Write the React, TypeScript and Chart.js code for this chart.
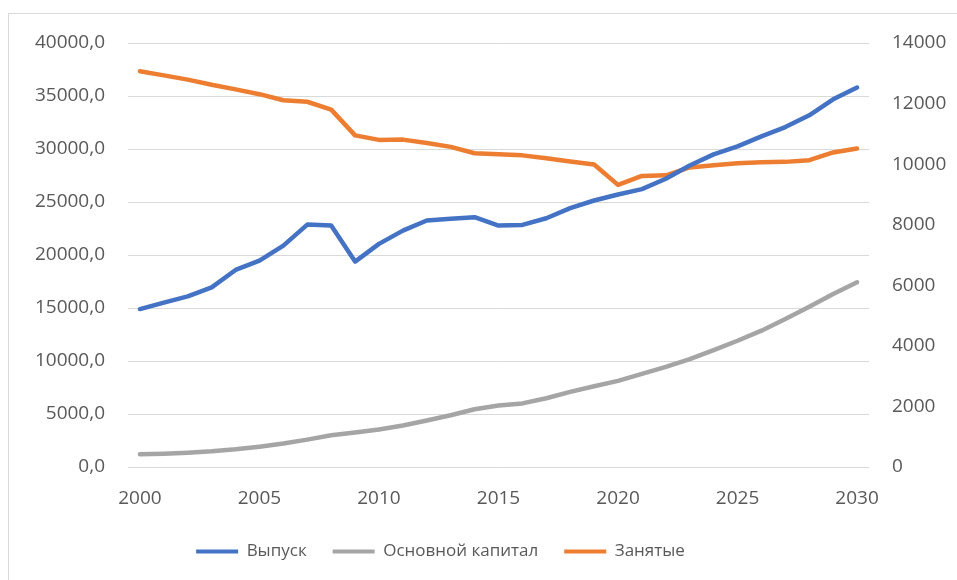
import React, { useEffect, useRef } from "react";
import { Chart, registerables } from "chart.js";

Chart.register(...registerables);

const years: string[] = [
  "2000","2001","2002","2003","2004","2005","2006","2007","2008","2009",
  "2010","2011","2012","2013","2014","2015","2016","2017","2018","2019",
  "2020","2021","2022","2023","2024","2025","2026","2027","2028","2029","2030",
];

const vypusk: number[] = [
  14900, 15500, 16100, 16950, 18590, 19470, 20890, 22870, 22780, 19380,
  21050, 22300, 23250, 23410, 23570, 22780, 22840, 23470, 24420, 25140,
  25710, 26210, 27190, 28450, 29490, 30250, 31190, 32070, 33180, 34690, 35800,
];

const osnovnoyKapital: number[] = [
  1200, 1260, 1355, 1480, 1670, 1920, 2210, 2580, 2990, 3250,
  3530, 3910, 4380, 4880, 5450, 5800, 6000, 6490, 7090, 7620,
  8130, 8790, 9450, 10180, 11030, 11910, 12860, 13960, 15120, 16320, 17420,
];

const zanyatye: number[] = [
  13070, 12930, 12790, 12620, 12470, 12310, 12110, 12060, 11800, 10950,
  10800, 10810, 10700, 10570, 10360, 10330, 10290, 10195, 10090, 9990,
  9315, 9610, 9630, 9890, 9965, 10030, 10060, 10075, 10130, 10385, 10515,
];

const seriesNames: string[] = ["Выпуск", "Основной капитал", "Занятые"];

const FONT = "'Open Sans', 'Noto Sans', sans-serif";
const TEXT = "#595959";
const GRID = "#D9D9D9";
const LEGEND_SHIFT = -38;

const legendShift = {
  id: "legendShift",
  afterLayout(chart: any) {
    const l = chart.legend;
    if (l) {
      l.left += LEGEND_SHIFT;
      l.right += LEGEND_SHIFT;
    }
  },
};

export default function App() {
  const canvasRef = useRef<HTMLCanvasElement | null>(null);

  useEffect(() => {
    if (!canvasRef.current) return;
    const mk = (label: string, data: number[], color: string, axis: string) => ({
      label,
      data,
      borderColor: color,
      backgroundColor: color,
      borderWidth: 4.5,
      pointRadius: 0,
      tension: 0,
      borderCapStyle: "round",
      borderJoinStyle: "round",
      yAxisID: axis,
    });
    const chart = new Chart(canvasRef.current, {
      type: "line",
      data: {
        labels: years,
        datasets: [
          mk(seriesNames[0], vypusk, "#4472C4", "y"),
          mk(seriesNames[1], osnovnoyKapital, "#A5A5A5", "y"),
          mk(seriesNames[2], zanyatye, "#ED7D31", "y2"),
        ] as any,
      },
      plugins: [legendShift],
      options: {
        animation: false,
        responsive: true,
        maintainAspectRatio: false,
        layout: { padding: { top: 43, bottom: 10, left: 0, right: 0 } },
        plugins: {
          tooltip: { enabled: false },
          legend: {
            position: "bottom",
            labels: {
              color: TEXT,
              font: { family: FONT, size: 17 },
              boxWidth: 42,
              boxHeight: 4,
              padding: 26,
              generateLabels: (ch: any) =>
                ch.data.datasets.map((ds: any, i: number) => ({
                  text: ds.label,
                  fillStyle: ds.borderColor,
                  strokeStyle: ds.borderColor,
                  lineWidth: 0,
                  fontColor: TEXT,
                  datasetIndex: i,
                  hidden: false,
                })),
            },
          },
        },
        scales: {
          x: {
            type: "category",
            offset: true,
            grid: { display: false, drawTicks: false },
            border: { display: false },
            ticks: {
              autoSkip: false,
              maxRotation: 0,
              color: TEXT,
              font: { family: FONT, size: 19 },
              padding: 20,
              callback: (_v: any, i: number) => (i % 5 === 0 ? years[i] : ""),
            },
            afterFit: (s: any) => {
              s.height = 50;
            },
          },
          y: {
            position: "left",
            min: 0,
            max: 40000,
            grid: { color: GRID, lineWidth: 1, drawTicks: false },
            border: { display: false },
            ticks: {
              stepSize: 5000,
              color: TEXT,
              font: { family: FONT, size: 19 },
              padding: 23,
              callback: (v: any) => Number(v).toFixed(1).replace(".", ","),
            },
            afterFit: (s: any) => {
              s.width = 128;
            },
          },
          y2: {
            position: "right",
            min: 0,
            max: 14000,
            grid: { display: false, drawTicks: false },
            border: { display: false },
            ticks: {
              stepSize: 2000,
              color: TEXT,
              font: { family: FONT, size: 19 },
              padding: 23,
              callback: (v: any) => String(v),
            },
            afterFit: (s: any) => {
              s.width = 88;
            },
          },
        },
      },
    });
    return () => chart.destroy();
  }, []);

  return (
    <div
      style={{
        position: "fixed",
        left: 0,
        top: 0,
        width: 957,
        height: 580,
        overflow: "hidden",
        background: "#ffffff",
      }}
    >
      <div
        style={{
          position: "absolute",
          left: 8,
          top: 13,
          width: 1000,
          height: 1000,
          border: "1px solid #D9D9D9",
        }}
      />
      <div style={{ position: "absolute", left: 0, top: 0, width: 957, height: 580 }}>
        <canvas ref={canvasRef} />
      </div>
    </div>
  );
}
